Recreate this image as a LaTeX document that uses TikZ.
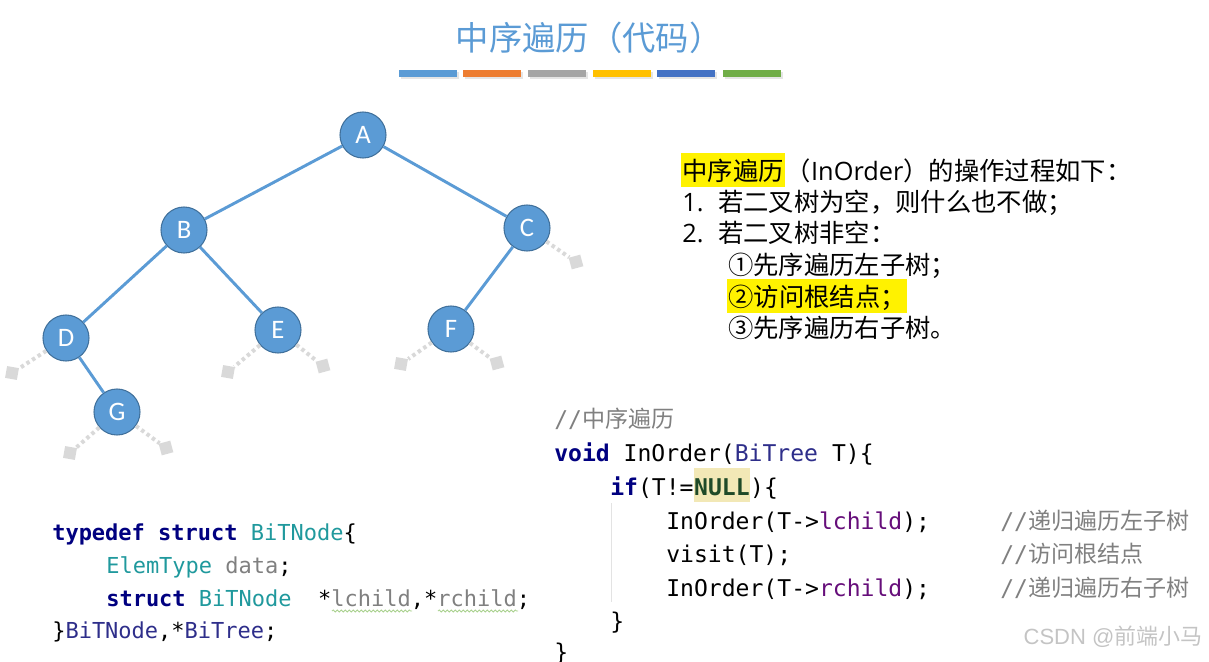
\documentclass[tikz,border=0pt]{standalone}
\usepackage{fontspec}
\usetikzlibrary{positioning,decorations.pathmorphing}
\setmainfont{Carlito}
\newfontfamily\zhfont{Noto Sans CJK SC}
\newfontfamily\codefont{DejaVu Sans Mono}
\newfontfamily\latinfont{Open Sans}
\newfontfamily\markfont{Liberation Sans}
\definecolor{nodeblue}{HTML}{5B9BD5}
\definecolor{nodeedge}{HTML}{41719C}
\definecolor{nullgray}{HTML}{D9D9D9}
\definecolor{barorange}{HTML}{ED7D31}
\definecolor{bargray}{HTML}{A5A5A5}
\definecolor{baryellow}{HTML}{FFC000}
\definecolor{barblue}{HTML}{4472C4}
\definecolor{bargreen}{HTML}{70AD47}
\definecolor{kwnavy}{HTML}{000080}
\definecolor{tyteal}{HTML}{20999D}
\definecolor{tdblue}{HTML}{2E2E8A}
\definecolor{fieldpurple}{HTML}{660E7A}
\definecolor{cmtgray}{HTML}{808080}
\definecolor{macgreen}{HTML}{1F4A28}
\definecolor{nullbg}{HTML}{F2E8B6}
\definecolor{guidegray}{HTML}{E3E3E3}
\definecolor{markgray}{HTML}{C4C4C4}
\definecolor{wavegreen}{HTML}{A9D18E}
\newcommand{\codekw}[1]{\textcolor{kwnavy}{\bfseries #1}}
\newcommand{\codety}[1]{\textcolor{tyteal}{#1}}
\newcommand{\codetd}[1]{\textcolor{tdblue}{#1}}
\newcommand{\codefd}[1]{\textcolor{fieldpurple}{#1}}
\newcommand{\codegr}[1]{\textcolor{cmtgray}{#1}}
\begin{document}
\begin{tikzpicture}[
  x=0.75pt, y=-0.75pt,
  treenode/.style={circle, fill=nodeblue, draw=nodeedge, line width=0.8pt, minimum size=34.5pt, inner sep=0pt, text=white, font=\fontsize{20pt}{22pt}\selectfont},
  nullbox/.style={fill=nullgray, minimum size=9pt, inner sep=0pt},
  edge/.style={nodeblue, line width=2.2pt},
  stub/.style={nullgray, line width=3pt, dash pattern=on 2.6pt off 2.4pt},
  desc/.style={anchor=base west, inner sep=0pt, font=\zhfont\fontsize{19pt}{23pt}\selectfont},
  hl/.style={desc, fill=yellow, inner xsep=1pt, text height=21pt, text depth=4.5pt},
  code/.style={anchor=base west, inner sep=0pt, font=\codefont\fontsize{17.3pt}{20pt}\selectfont},
  lcode/.style={code, font=\codefont\fontsize{16.5pt}{20pt}\selectfont},
  cmt/.style={code, text=cmtgray},
  wave/.style={wavegreen, line width=0.6pt, decorate, decoration={snake, segment length=3pt, amplitude=0.8pt}}
]
\useasboundingbox (0,0) rectangle (1209,661);

\node[text=nodeblue, font=\zhfont\fontsize{25pt}{29pt}\selectfont] (title) at (589,38) {中序遍历（代码）};
\foreach \x/\c in {399/nodeblue,463/barorange,528/bargray,593/baryellow,657/barblue,723/bargreen} {
  \fill[black!10] (\x+1.5,71.5) rectangle ++(58,7);
  \fill[\c] (\x,70) rectangle ++(58,7);
}

\node[treenode] (A) at (363,135) {A};
\node[treenode] (B) at (184,230) {B};
\node[treenode] (C) at (527,228) {C};
\node[treenode] (D) at (66,338) {D};
\node[treenode] (E) at (278,330) {E};
\node[treenode] (F) at (451,329) {F};
\node[treenode] (G) at (117,412) {G};

\node[nullbox, rotate=15] (Cr) at (576,262) {};
\node[nullbox, rotate=-10] (Dl) at (12,373) {};
\node[nullbox, rotate=-10] (El) at (228,372) {};
\node[nullbox, rotate=15] (Er) at (323,366) {};
\node[nullbox, rotate=-10] (Fl) at (401,364) {};
\node[nullbox, rotate=15] (Fr) at (497,363) {};
\node[nullbox, rotate=-10] (Gl) at (70,453) {};
\node[nullbox, rotate=15] (Gr) at (166,448) {};

\foreach \a/\b in {A/B,A/C,B/D,B/E,C/F,D/G}
  \draw[edge] (\a) -- (\b);
\foreach \a/\b in {C/Cr,D/Dl,E/El,E/Er,F/Fl,F/Fr,G/Gl,G/Gr}
  \draw[stub] (\a) -- (\b);

\node[hl] (l1a) at (681,180.5) {中序遍历};
\node[desc] (l1b) at (l1a.base east) {（{\latinfont InOrder}）的操作过程如下：};
\node[desc] (n1) at (682,211.5) {\latinfont 1.};
\node[desc] (l2) at (718,211.5) {若二叉树为空，则什么也不做；};
\node[desc] (n2) at (682,242.5) {\latinfont 2.};
\node[desc] (l3) at (718,242.5) {若二叉树非空：};
\node[desc] (l4) at (728,274.5) {①先序遍历左子树；};
\node[hl] (l5) at (727,306.5) {②访问根结点；};
\node[desc] (l6) at (728,337.5) {③先序遍历右子树。};

\node[cmt] (c0) at (554,427) {//{\zhfont 中序遍历}};
\node[code] (c1) at (554,461) {\codekw{void} InOrder(\codetd{BiTree} T)\{};
\node[code] (c2) at (610,495) {\codekw{if}(T!=};
\node[code, fill=nullbg, text height=20.2pt, text depth=5.2pt] (c2n) at (c2.base east) {\textcolor{macgreen}{\bfseries NULL}};
\node[code] (c2e) at (c2n.base east) {)\{};
\node[code] (c3) at (666,529) {InOrder(T->\codefd{lchild});};
\node[code] (c4) at (666,562) {visit(T);};
\node[code] (c5) at (666,596) {InOrder(T->\codefd{rchild});};
\node[code] (c6) at (610,629) {\}};
\node[code] (c7) at (554,660) {\}};
\node[cmt] (m3) at (1000,529) {//{\zhfont 递归遍历左子树}};
\node[cmt] (m4) at (1000,562) {//{\zhfont 访问根结点}};
\node[cmt] (m5) at (1000,596) {//{\zhfont 递归遍历右子树}};
\draw[guidegray, line width=0.75pt] (611,503) -- (611,602);

\node[lcode] (t1) at (52,540) {\codekw{typedef struct} \codety{BiTNode}\{};
\node[lcode] (t2) at (106,573) {\codety{ElemType} \codegr{data};};
\node[lcode] (t3) at (106,606) {\codekw{struct} \codety{BiTNode}\ \ *\codegr{lchild},*\codegr{rchild};};
\node[lcode] (t4) at (52,638) {\}\codetd{BiTNode},*\codetd{BiTree};};
\draw[wave] (332,611) -- (412,611);
\draw[wave] (438,611) -- (518,611);

\node[font=\markfont\fontsize{16.5pt}{20pt}\selectfont, text=markgray] (wm) at (1113,637) {CSDN @{\zhfont 前端小马}};
\end{tikzpicture}
\end{document}
